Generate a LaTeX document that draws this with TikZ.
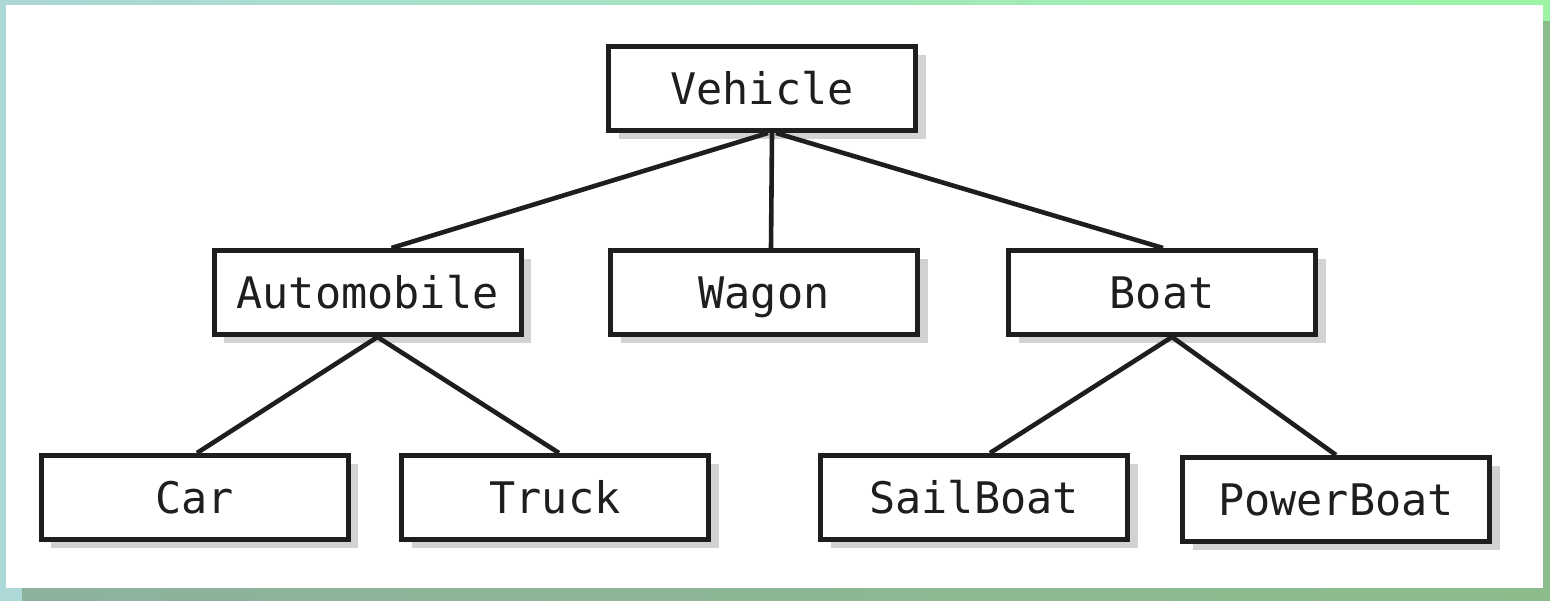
\documentclass[tikz,border=0pt]{standalone}
\usepackage{fontspec}
\setmonofont{DejaVu Sans Mono}
\usetikzlibrary{shadows}
\definecolor{frameA}{HTML}{ACD8D8}
\definecolor{frameB}{HTML}{9CF4A4}
\definecolor{frameShA}{HTML}{8CB29C}
\definecolor{frameShB}{HTML}{8CBC8C}
\definecolor{boxshadow}{HTML}{D2D2D2}
\definecolor{ink}{HTML}{1E1E1E}
\tikzset{
  classbox/.style={draw=ink, line width=5pt, fill=white,
    minimum width=307pt, minimum height=84pt, inner sep=0pt,
    text height=31pt, text depth=0pt,
    font=\ttfamily\fontsize{43.5}{50}\selectfont, text=ink,
    drop shadow={shadow xshift=10pt, shadow yshift=-8pt, fill=boxshadow, opacity=1}},
  link/.style={draw=ink, line width=4.6pt}
}
\begin{document}
\begin{tikzpicture}[x=1pt, y=-1pt]
  \useasboundingbox (0,0) rectangle (1550,600);
  % coloured frame with its offset shadow and the white sheet
  \shade[left color=frameA, right color=frameB] (0,0) rectangle (1550,600);
  \shade[left color=frameShA, right color=frameShB] (22,21) rectangle (1550,600);
  \fill[white] (6,5) rectangle (1543,588);

  % class hierarchy
  \node[classbox] (vehicle)    at (762,88.5)    {Vehicle};
  \node[classbox] (automobile) at (367.5,292.5) {Automobile};
  \node[classbox] (wagon)      at (764,292.5)   {Wagon};
  \node[classbox] (boat)       at (1162,292.5)  {Boat};
  \node[classbox] (car)        at (194.5,497.5) {Car};
  \node[classbox] (truck)      at (555,497.5)   {Truck};
  \node[classbox] (sailboat)   at (974,497.5)   {SailBoat};
  \node[classbox] (powerboat)  at (1336,499.5)  {PowerBoat};

  % inheritance links
  \draw[link] ([xshift=6pt]vehicle.south) -- ([xshift=24pt]automobile.north);
  \draw[link] ([xshift=10pt]vehicle.south) -- ([xshift=7pt]wagon.north);
  \draw[link] ([xshift=14pt]vehicle.south) -- ([xshift=1pt]boat.north);
  \draw[link] ([xshift=10pt]automobile.south) -- ([xshift=2.5pt]car.north);
  \draw[link] ([xshift=10pt]automobile.south) -- ([xshift=4pt]truck.north);
  \draw[link] ([xshift=10pt]boat.south) -- ([xshift=16pt]sailboat.north);
  \draw[link] ([xshift=10pt]boat.south) -- ([xshift=0pt]powerboat.north);
\end{tikzpicture}
\end{document}
